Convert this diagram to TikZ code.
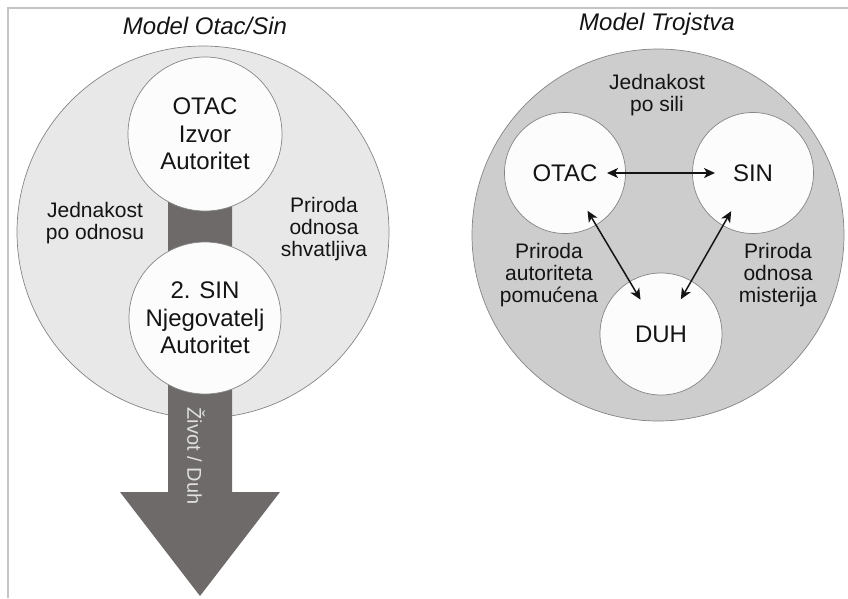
\documentclass[tikz,border=0pt]{standalone}
\usepackage{fontspec}
\setmainfont{Liberation Sans}
\usetikzlibrary{arrows.meta}
\definecolor{paleback}{HTML}{E8E8E8}
\definecolor{midback}{HTML}{CDCDCD}
\definecolor{rimgray}{HTML}{858585}
\definecolor{whitefill}{HTML}{FCFCFC}
\definecolor{barcol}{HTML}{6E6A6A}
\definecolor{inkcol}{HTML}{141414}
\definecolor{framecol}{HTML}{C4C4C4}
\begin{document}
\begin{tikzpicture}[x=1pt,y=-1pt]
		\tikzstyle{every node}+=[inner sep=0pt, text=inkcol, align=center]
		\tikzstyle{bigdisc}=[circle, draw=rimgray, line width=0.7pt, minimum size=372pt]
		\tikzstyle{disc}=[circle, draw=rimgray, line width=0.7pt, fill=whitefill, font=\fontsize{24}{27.5}\selectfont]
		\tikzstyle{label}=[font=\fontsize{21}{22}\selectfont]
		\tikzstyle{heading}=[font=\fontsize{24}{26}\selectfont\itshape]
		\tikzstyle{twoway}=[{Stealth[length=11pt,width=10pt,inset=3pt]}-{Stealth[length=11pt,width=10pt,inset=3pt]}, line width=1.5pt, draw=inkcol]
		\useasboundingbox (0,0) rectangle (848,598);
		\draw [framecol, line width=1.3pt] (8,598) -- (8,8) -- (848,8);
		% left: Otac/Sin
		\node [heading] (titleA) at (205,26) {Model Otac/Sin};
		\node [bigdisc, fill=paleback] (outerA) at (203,232) {};
		\fill [barcol] (168,134) -- (232,134) -- (232,492) -- (280,492) -- (200,596) -- (120,492) -- (168,492) -- cycle;
		\node [disc, minimum size=154pt] (otacA) at (205,134) {OTAC\\Izvor\\Autoritet};
		\node [disc, minimum size=152pt] (sinA) at (205,318) {2. SIN\\Njegovatelj\\Autoritet};
		\node [rotate=-90, text=white!88!black, font=\fontsize{20}{22}\selectfont] (zivot) at (196,456) {Život / Duh};
		\node [label] (jedA) at (95,223) {Jednakost\\po odnosu};
		\node [label] (priA) at (324,229) {Priroda\\odnosa\\shvatljiva};
		% right: Trojstvo
		\node [heading] (titleB) at (657,24) {Model Trojstva};
		\node [bigdisc, fill=midback] (outerB) at (658,235) {};
		\node [disc, minimum size=121pt] (otacB) at (565,173) {OTAC};
		\node [disc, minimum size=121pt] (sinB) at (753,173) {SIN};
		\node [disc, minimum size=122pt] (duhB) at (661,334) {DUH};
		\node [label] (jedB) at (657,95) {Jednakost\\po sili};
		\node [label] (priB) at (549,275) {Priroda\\autoriteta\\pomućena};
		\node [label] (priC) at (778,275) {Priroda\\odnosa\\misterija};
		\draw [twoway, shorten <=42pt, shorten >=38pt] (otacB.center) -- (sinB.center);
		\draw [twoway, shorten <=44pt, shorten >=40pt] (otacB.center) -- (duhB.center);
		\draw [twoway, shorten <=44pt, shorten >=40pt] (sinB.center) -- (duhB.center);
	\end{tikzpicture}
\end{document}
